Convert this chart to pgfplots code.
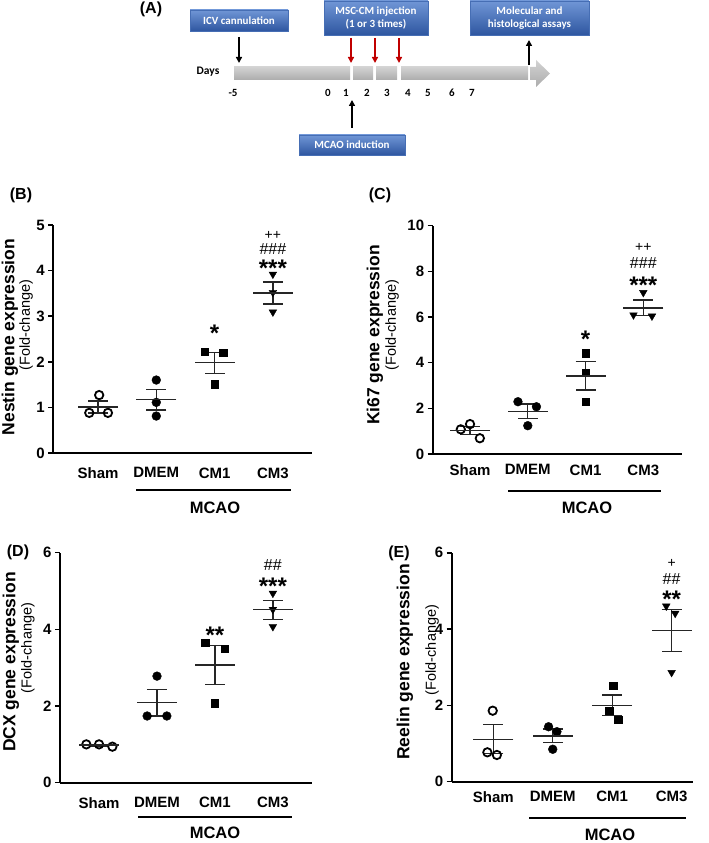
\documentclass[border=0pt]{standalone}
\usepackage{pgfplots}
\pgfplotsset{compat=1.18}
\usepackage{fontspec}
\setmainfont{Liberation Sans}
\newfontfamily\carl{Carlito}
\usetikzlibrary{arrows.meta}
\newcommand\fs[1]{\fontsize{#1}{#1}\selectfont}
\definecolor{boxtop}{RGB}{112,150,214}
\definecolor{boxbot}{RGB}{46,86,160}
\definecolor{boxedge}{RGB}{70,110,180}
\definecolor{injred}{RGB}{192,0,0}

\pgfplotsset{
  panel/.style={
    scale only axis, anchor=south west, clip=false,
    axis x line*=bottom, axis y line*=left,
    axis line style={line width=1.8pt, -},
    xtick={0,1,2,3}, xticklabels={Sham,DMEM,CM1,CM3},
    x tick style={draw=none},
    y tick style={line width=1.6pt, black},
    tick align=outside, major tick length=5pt,
    tick label style={font=\bfseries\fs{15}},
    /pgf/number format/assume math mode=true,
    ymin=0,
  },
  sham/.style={only marks, mark=o, mark size=4.2pt, mark options={line width=1.8pt, black, fill=white}},
  dmem/.style={only marks, mark=*, mark size=4.4pt, black},
  cmone/.style={only marks, mark=square*, mark size=3.7pt, black},
  cmthree/.style={only marks, mark=triangle*, mark size=4.4pt, black, mark options={rotate=180}},
  grp/.style={only marks, mark=-, mark size=20pt, black!85, mark options={line width=1.3pt},
    error bars/.cd, y dir=both, y explicit, error mark=|,
    error bar style={line width=1.3pt, black!85},
    error mark options={mark size=10pt, line width=1.3pt, black!85}},
}
\tikzset{
  ast/.style={font=\bfseries\fs{24}, inner sep=0pt, yshift=-5.5pt},
  hsh/.style={font=\fs{16}, inner sep=0pt, yshift=1.5pt},
  pls/.style={font=\fs{14}, inner sep=0pt, yshift=1.5pt},
  blbox/.style={draw=boxedge, line width=0.6pt, top color=boxtop, bottom color=boxbot,
    text=white, font=\carl\bfseries\fontsize{11}{13}\selectfont, align=center, inner sep=0pt},
  arr/.style={-{Triangle[length=6pt,width=6pt]}, line width=1.8pt},
}

\begin{document}
\begin{tikzpicture}
\path[use as bounding box] (0pt,0pt) rectangle (709pt,843pt);

% ---------- (A) timeline ----------
\node[font=\bfseries\fs{16}] at (151pt,834pt) {(A)};
\node[blbox, minimum width=98pt, minimum height=21pt] at (239pt,822.5pt) {ICV cannulation};
\node[blbox, minimum width=104pt, minimum height=34pt] at (376pt,825pt) {MSC-CM injection\\(1 or 3 times)};
\node[blbox, minimum width=119pt, minimum height=34pt] at (529.5pt,825pt) {Molecular and\\histological assays};
\node[blbox, minimum width=106pt, minimum height=20pt] at (352pt,698pt) {MCAO induction};
\foreach \a/\b in {234/350,353/373,376/397,401/528}
  \shade[top color=gray!35, bottom color=gray!65] (\a pt,763pt) rectangle (\b pt,776pt);
\shade[top color=gray!35, bottom color=gray!65] (530pt,763pt) -- (536pt,763pt) -- (536pt,756pt)
  -- (550pt,769.5pt) -- (536pt,783pt) -- (536pt,776pt) -- (530pt,776pt) -- cycle;
\draw[arr] (239pt,806pt) -- (239pt,780pt);
\foreach \x in {351,375,399} \draw[arr, injred] (\x pt,805pt) -- (\x pt,780pt);
\draw[arr] (529pt,778pt) -- (529pt,803pt);
\draw[arr] (352pt,715pt) -- (352pt,743pt);
\node[font=\carl\bfseries\fs{11.5}] at (208pt,771pt) {Days};
\foreach \x/\t in {233/-5,328/0,346/1,367/2,387/3,408/4,428/5,452/6,472/7}
  \node[font=\carl\bfseries\fs{11}] at (\x pt,750pt) {\t};

% ---------- (B) Nestin ----------
\begin{axis}[panel, at={(53.3pt,390pt)}, width=258.4pt, height=228pt,
  xmin=-0.767, xmax=3.666, ymax=5, ytick={0,1,2,3,4,5},
  xticklabel style={yshift=-6pt}]
\addplot[sham] coordinates {(0.02,1.27) (-0.15,0.88) (0.17,0.88)};
\addplot[dmem] coordinates {(1,1.60) (1,1.11) (1,0.81)};
\addplot[cmone] coordinates {(1.83,2.22) (2.15,2.20) (2.0,1.51)};
\addplot[cmthree] coordinates {(3,3.92) (3,3.52) (3,3.09)};
\addplot[grp] coordinates {(0,1.01) +- (0,0.13) (1,1.17) +- (0,0.23) (2,1.98) +- (0,0.23) (3,3.51) +- (0,0.24)};
\node[ast] at (axis cs:2,2.74) {*};
\node[ast] at (axis cs:3,4.17) {***};
\node[hsh] at (axis cs:3,4.44) {\#\#\#};
\node[pls] at (axis cs:3,4.74) {++};
\end{axis}
\node[font=\bfseries\fs{16}] at (21pt,648pt) {(B)};
\node[rotate=90, font=\bfseries\fs{17.5}] at (10pt,506pt) {Nestin gene expression};
\node[rotate=90, font=\fs{14.5}] at (26pt,518pt) {(Fold-change)};
\draw[line width=2pt] (136pt,353pt) -- (291pt,353pt);
\node[font=\bfseries\fs{16.5}] at (215pt,335pt) {MCAO};

% ---------- (C) Ki67 ----------
\begin{axis}[panel, at={(432.7pt,389pt)}, width=249.3pt, height=228.3pt,
  xmin=-0.646, xmax=3.67, ymax=10, ytick={0,2,4,6,8,10},
  xticklabel style={yshift=-2pt}]
\addplot[sham] coordinates {(-0.16,1.08) (0,1.31) (0.17,0.69)};
\addplot[dmem] coordinates {(0.83,2.29) (1.15,2.07) (1.0,1.24)};
\addplot[cmone] coordinates {(2,4.41) (2,3.56) (2,2.29)};
\addplot[cmthree] coordinates {(3,7.07) (2.83,6.09) (3.15,6.04)};
\addplot[grp] coordinates {(0,1.03) +- (0,0.18) (1,1.87) +- (0,0.32) (2,3.42) +- (0,0.62) (3,6.40) +- (0,0.34)};
\node[ast] at (axis cs:2,5.28) {*};
\node[ast] at (axis cs:3,7.62) {***};
\node[hsh] at (axis cs:3,8.31) {\#\#\#};
\node[pls] at (axis cs:3,8.96) {++};
\end{axis}
\node[font=\bfseries\fs{16}] at (380pt,648pt) {(C)};
\node[rotate=90, font=\bfseries\fs{17.5}] at (375pt,508pt) {Ki67 gene expression};
\node[rotate=90, font=\fs{14.5}] at (392pt,518pt) {(Fold-change)};
\draw[line width=2pt] (508pt,352pt) -- (661pt,352pt);
\node[font=\bfseries\fs{16.5}] at (587pt,335pt) {MCAO};

% ---------- (D) DCX ----------
\begin{axis}[panel, at={(60pt,60.3pt)}, width=251.7pt, height=230pt,
  xmin=-0.674, xmax=3.67, ymax=6, ytick={0,2,4,6},
  xticklabel style={yshift=-6pt}]
\addplot[sham] coordinates {(-0.22,1.0) (0,1.0) (0.23,0.94)};
\addplot[dmem] coordinates {(1,2.78) (0.83,1.74) (1.17,1.74)};
\addplot[cmone] coordinates {(1.83,3.65) (2.17,3.49) (2,2.07)};
\addplot[cmthree] coordinates {(3,4.94) (3,4.52) (3,4.07)};
\addplot[grp] coordinates {(0,0.98) +- (0,0.02) (1,2.09) +- (0,0.35) (2,3.07) +- (0,0.50) (3,4.51) +- (0,0.25)};
\node[ast] at (axis cs:2,4.0) {**};
\node[ast] at (axis cs:3,5.26) {***};
\node[hsh] at (axis cs:3,5.63) {\#\#};
\end{axis}
\node[font=\bfseries\fs{16}] at (18pt,291pt) {(D)};
\node[rotate=90, font=\bfseries\fs{17.5}] at (11pt,181pt) {DCX gene expression};
\node[rotate=90, font=\fs{14.5}] at (28pt,195pt) {(Fold-change)};
\draw[line width=2pt] (138pt,26pt) -- (292pt,26pt);
\node[font=\bfseries\fs{16.5}] at (215pt,10pt) {MCAO};

% ---------- (E) Reelin ----------
\begin{axis}[panel, at={(451.7pt,61.3pt)}, width=241.3pt, height=229pt,
  xmin=-0.70, xmax=3.36, ymax=6, ytick={0,2,4,6},
  xticklabel style={yshift=-1pt}]
\addplot[sham] coordinates {(-0.01,1.86) (-0.1,0.77) (0.06,0.70)};
\addplot[dmem] coordinates {(0.93,1.44) (1.07,1.31) (1.0,0.85)};
\addplot[cmone] coordinates {(2.02,2.52) (1.95,1.86) (2.1,1.62)};
\addplot[cmthree] coordinates {(2.91,4.60) (3.06,4.41) (3.0,2.86)};
\addplot[grp] coordinates {(0,1.11) +- (0,0.38) (1,1.20) +- (0,0.18) (2,2.00) +- (0,0.27) (3,3.96) +- (0,0.55)};
\node[ast] at (axis cs:3,4.92) {**};
\node[hsh] at (axis cs:3,5.28) {\#\#};
\node[pls] at (axis cs:3,5.68) {+};
\end{axis}
\node[font=\bfseries\fs{16}] at (399pt,290pt) {(E)};
\node[rotate=90, font=\bfseries\fs{17.5}] at (405pt,181pt) {Reelin gene expression};
\node[rotate=90, font=\fs{14.5}] at (432pt,193pt) {(Fold-change)};
\draw[line width=2pt] (529pt,25pt) -- (686pt,25pt);
\node[font=\bfseries\fs{16.5}] at (610pt,8pt) {MCAO};
\end{tikzpicture}
\end{document}
